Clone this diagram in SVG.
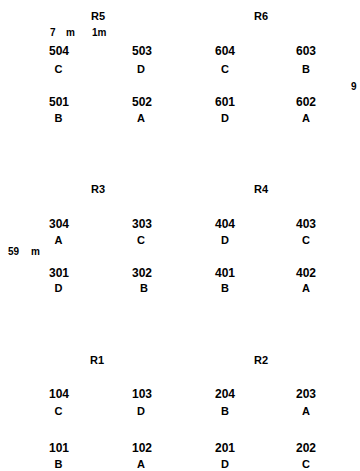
<svg xmlns="http://www.w3.org/2000/svg" width="360" height="471" viewBox="0 0 360 471">
<style>
text{font-family:"Liberation Sans",Arial,sans-serif;font-weight:bold;fill:#000;text-anchor:middle;font-size:12px}
.t{font-size:11px}
.n{font-size:12px}
.l{font-size:11px}
.s{text-anchor:start;font-size:10px}
</style>
<rect width="360" height="471" fill="#fff"/>
<g id="connectors"/>
<g id="R5">
<text class="t" x="98" y="20">R5</text>
<text class="s" x="50" y="36">7</text>
<text class="s" x="66" y="36">m</text>
<text class="s" x="92" y="36">1m</text>
<g id="c504"><text class="n" x="59" y="55">504</text><text class="l" x="58.5" y="73">C</text></g>
<g id="c503"><text class="n" x="142" y="55">503</text><text class="l" x="141" y="73">D</text></g>
<g id="c501"><text class="n" x="59" y="106">501</text><text class="l" x="58.5" y="122">B</text></g>
<g id="c502"><text class="n" x="142" y="106">502</text><text class="l" x="141" y="122">A</text></g>
</g>
<g id="R6">
<text class="t" x="261" y="20">R6</text>
<g id="c604"><text class="n" x="225" y="55">604</text><text class="l" x="225" y="73">C</text></g>
<g id="c603"><text class="n" x="306" y="55">603</text><text class="l" x="306" y="73">B</text></g>
<g id="c601"><text class="n" x="225" y="106">601</text><text class="l" x="225" y="122">D</text></g>
<g id="c602"><text class="n" x="306" y="106">602</text><text class="l" x="306" y="122">A</text></g>
<text class="s" x="351" y="90">9</text>
</g>
<g id="R3">
<text class="t" x="98" y="193">R3</text>
<text class="s" x="8" y="255">59</text>
<text class="s" x="31" y="255">m</text>
<g id="c304"><text class="n" x="59" y="228">304</text><text class="l" x="58.5" y="244">A</text></g>
<g id="c303"><text class="n" x="142" y="228">303</text><text class="l" x="141" y="244">C</text></g>
<g id="c301"><text class="n" x="59" y="277">301</text><text class="l" x="58.5" y="292">D</text></g>
<g id="c302"><text class="n" x="142" y="277">302</text><text class="l" x="144" y="292">B</text></g>
</g>
<g id="R4">
<text class="t" x="261" y="193">R4</text>
<g id="c404"><text class="n" x="225" y="228">404</text><text class="l" x="225" y="244">D</text></g>
<g id="c403"><text class="n" x="306" y="228">403</text><text class="l" x="306" y="244">C</text></g>
<g id="c401"><text class="n" x="225" y="277">401</text><text class="l" x="225" y="292">B</text></g>
<g id="c402"><text class="n" x="306" y="277">402</text><text class="l" x="306" y="292">A</text></g>
</g>
<g id="R1">
<text class="t" x="97" y="364">R1</text>
<g id="c104"><text class="n" x="59" y="398">104</text><text class="l" x="58.5" y="415">C</text></g>
<g id="c103"><text class="n" x="142" y="398">103</text><text class="l" x="141" y="415">D</text></g>
<g id="c101"><text class="n" x="59" y="452">101</text><text class="l" x="58.5" y="468">B</text></g>
<g id="c102"><text class="n" x="142" y="452">102</text><text class="l" x="141" y="468">A</text></g>
</g>
<g id="R2">
<text class="t" x="261" y="364">R2</text>
<g id="c204"><text class="n" x="225" y="398">204</text><text class="l" x="225" y="415">B</text></g>
<g id="c203"><text class="n" x="306" y="398">203</text><text class="l" x="306" y="415">A</text></g>
<g id="c201"><text class="n" x="225" y="452">201</text><text class="l" x="225" y="468">D</text></g>
<g id="c202"><text class="n" x="306" y="452">202</text><text class="l" x="306" y="468">C</text></g>
</g>
</svg>
